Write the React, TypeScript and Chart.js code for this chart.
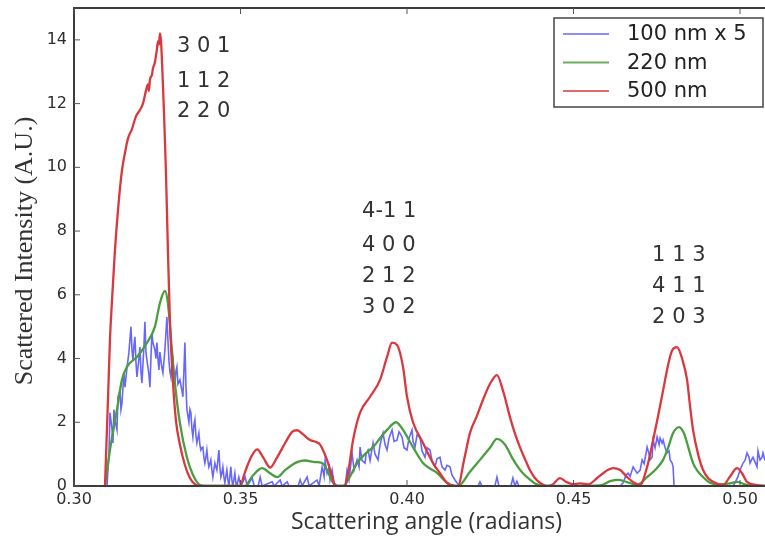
import React, { useEffect, useRef } from "react";
import { Chart, registerables } from "chart.js";

Chart.register(...registerables);

const xTickValues = [0.3, 0.35, 0.4, 0.45, 0.5];
const yTickValues = [0, 2, 4, 6, 8, 10, 12, 14];
const seriesLabels = ["100 nm x 5", "220 nm", "500 nm"];
const seriesColors = ["rgba(60,60,255,0.78)", "#4a9e3e", "#d9383e"];
const legendColors = ["#8c8cff", "#6cae5e", "#e06a6a"];

const blueSeries: [number, number][] = [
  [0.3099, 0], [0.3105, 1.0], [0.3108, 2.3], [0.3114, 1.8], [0.3117, 1.35], [0.312, 2.4], [0.3123, 2.07],
  [0.3129, 1.76], [0.3132, 2.8], [0.3138, 3.0], [0.3141, 2.4], [0.3144, 2.6], [0.315, 3.55], [0.3153, 3.1],
  [0.3159, 3.7], [0.3165, 4.2], [0.3171, 5.0], [0.3174, 4.3], [0.3177, 3.95], [0.318, 4.4], [0.3183, 4.68],
  [0.3186, 3.9], [0.3189, 3.42], [0.3195, 4.0], [0.3198, 4.36], [0.3201, 3.6], [0.3204, 3.23], [0.321, 4.4],
  [0.3213, 5.15], [0.3216, 4.2], [0.3219, 3.95], [0.3225, 3.5], [0.3228, 3.1], [0.3231, 4.0], [0.3234, 4.8],
  [0.3237, 4.5], [0.3243, 4.27], [0.3246, 4.0], [0.3249, 4.5], [0.3252, 4.0], [0.3255, 3.64], [0.3258, 4.2],
  [0.3261, 3.95], [0.3264, 3.7], [0.3267, 3.55], [0.327, 3.9], [0.3273, 4.27], [0.3276, 4.8], [0.3279, 5.3],
  [0.3282, 4.6], [0.3285, 3.95], [0.3288, 3.6], [0.3291, 3.42], [0.3294, 3.8], [0.3297, 3.95], [0.33, 3.5],
  [0.3303, 3.23], [0.3306, 3.6], [0.3309, 3.74], [0.3312, 3.2], [0.3318, 3.33], [0.3324, 3.0], [0.3327, 2.8],
  [0.333, 3.6], [0.3333, 4.5], [0.3336, 3.2], [0.3339, 2.4], [0.3342, 2.2], [0.3345, 2.0], [0.3348, 2.4],
  [0.3351, 2.3], [0.3354, 1.8], [0.3357, 1.54], [0.336, 1.9], [0.3363, 2.07], [0.3366, 1.6], [0.3369, 1.35],
  [0.3372, 1.5], [0.3375, 1.66], [0.3378, 1.3], [0.3381, 1.13], [0.3384, 1.2], [0.3387, 1.22], [0.339, 0.9],
  [0.3393, 0.72], [0.3396, 0.9], [0.3399, 1.13], [0.3402, 0.8], [0.3405, 0.6], [0.3408, 0.7], [0.3411, 0.82],
  [0.3414, 0.5], [0.3417, 0.28], [0.342, 0.5], [0.3423, 0.72], [0.3426, 0.6], [0.3429, 0.5], [0.3432, 0.8],
  [0.3435, 1.13], [0.3438, 0.6], [0.3441, 0.28], [0.3444, 0.4], [0.3447, 0.6], [0.345, 0.3], [0.3453, 0.1],
  [0.3456, 0.3], [0.3459, 0.5], [0.3462, 0.2], [0.3465, 0], [0.3468, 0.3], [0.3471, 0.6], [0.3474, 0.2],
  [0.3477, 0], [0.348, 0.2], [0.3483, 0.4], [0.3486, 0.1], [0.3489, 0], [0.3495, 0.28], [0.3501, 0],
  [0.3514, 0.28], [0.352, 0], [0.3535, 0.25], [0.3541, 0], [0.3553, 0], [0.3559, 0.28], [0.3565, 0],
  [0.3595, 0.13], [0.3601, 0], [0.3619, 0.19], [0.3625, 0], [0.364, 0.13], [0.3646, 0], [0.3673, 0],
  [0.3679, 0.2], [0.3685, 0], [0.37, 0.28], [0.3706, 0], [0.373, 0.19], [0.3736, 0], [0.3745, 0.6],
  [0.3751, 0.3], [0.3754, 0.8], [0.376, 0.4], [0.3766, 0.6], [0.3769, 0.2], [0.3775, 0.5], [0.3781, 0.1],
  [0.379, 0], [0.3814, 0], [0.382, 0.5], [0.3826, 0.2], [0.3835, 1.04], [0.3841, 0.5], [0.385, 0.82],
  [0.3856, 0.6], [0.3859, 1.22], [0.3865, 0.8], [0.3874, 0.72], [0.3877, 1.0], [0.3883, 1.13], [0.3889, 0.8],
  [0.3898, 1.35], [0.3904, 1.0], [0.3913, 0.82], [0.3919, 1.3], [0.3928, 1.66], [0.3934, 1.3], [0.394, 1.13],
  [0.3946, 1.5], [0.3955, 1.76], [0.3961, 1.4], [0.397, 1.44], [0.3976, 1.7], [0.3985, 1.54], [0.3991, 1.2],
  [0.4, 1.13], [0.4006, 1.5], [0.4015, 1.76], [0.4018, 1.4], [0.4024, 1.22], [0.403, 1.6], [0.4039, 1.54],
  [0.4045, 1.1], [0.4054, 0.9], [0.406, 1.2], [0.4069, 1.13], [0.4075, 0.8], [0.4084, 0.6], [0.409, 0.85],
  [0.4099, 0.9], [0.4105, 0.6], [0.4114, 0.5], [0.412, 0.65], [0.4129, 0.6], [0.4135, 0.35], [0.4144, 0.19],
  [0.415, 0.1], [0.4159, 0], [0.4213, 0], [0.4219, 0.13], [0.4225, 0], [0.4264, 0], [0.427, 0.28],
  [0.4276, 0], [0.4312, 0], [0.4318, 0.25], [0.4324, 0], [0.433, 0.15], [0.4336, 0], [0.464, 0],
  [0.4649, 0.1], [0.4658, 0.35], [0.4664, 0.4], [0.467, 0.3], [0.4679, 0.6], [0.4685, 0.5], [0.4691, 0.4],
  [0.47, 0.5], [0.4706, 0.82], [0.4712, 0.7], [0.4721, 1.22], [0.4727, 1.0], [0.473, 0.82], [0.4736, 0.9],
  [0.4739, 1.44], [0.4745, 1.2], [0.4751, 1.54], [0.4757, 1.3], [0.476, 1.5], [0.4766, 1.35], [0.4769, 1.44],
  [0.4775, 1.2], [0.4781, 1.04], [0.4787, 1.1], [0.479, 0.82], [0.4796, 0.72], [0.4799, 0.6], [0.4802, 0],
  [0.4979, 0], [0.4985, 0.1], [0.4994, 0.3], [0.5, 0.5], [0.5009, 0.72], [0.5015, 0.8], [0.5021, 1.04],
  [0.5027, 0.9], [0.503, 0.72], [0.5036, 0.85], [0.5039, 0.9], [0.5045, 0.75], [0.5051, 0.6], [0.5054, 1.1],
  [0.506, 0.82], [0.5066, 0.9], [0.5069, 1.04], [0.5075, 0.8],
];

const greenSeries: [number, number][] = [
  [0.3093, 0], [0.3108, 1.13], [0.3129, 2.39], [0.3144, 3.33], [0.3159, 3.74], [0.3189, 4.05], [0.3219, 4.49],
  [0.3243, 5.0], [0.3258, 5.74], [0.3273, 6.12], [0.3282, 5.74], [0.3294, 4.27], [0.3303, 3.23], [0.3318, 1.98],
  [0.3339, 0.9], [0.3357, 0.35], [0.3378, 0.03], [0.3393, 0], [0.3513, 0], [0.3535, 0.3], [0.3565, 0.56],
  [0.3589, 0.4], [0.361, 0.28], [0.3634, 0.5], [0.367, 0.75], [0.3694, 0.8], [0.3724, 0.75], [0.3745, 0.72],
  [0.376, 0.5], [0.3775, 0.15], [0.379, 0], [0.3808, 0], [0.3829, 0.3], [0.385, 0.72], [0.3874, 1.0],
  [0.3898, 1.22], [0.3919, 1.5], [0.394, 1.76], [0.3967, 2.0], [0.3988, 1.76], [0.4018, 1.22], [0.4048, 0.72],
  [0.4069, 0.55], [0.409, 0.41], [0.412, 0.1], [0.4144, 0], [0.4153, 0], [0.4189, 0.45], [0.4219, 0.82],
  [0.4249, 1.2], [0.427, 1.48], [0.4294, 1.3], [0.4315, 0.9], [0.4333, 0.6], [0.4348, 0.4], [0.4369, 0.2],
  [0.4384, 0.08], [0.4414, 0], [0.458, 0.02], [0.461, 0.15], [0.4634, 0.19], [0.4661, 0.12], [0.4691, 0.04],
  [0.4721, 0.28], [0.4745, 0.5], [0.4769, 0.82], [0.4784, 1.2], [0.4799, 1.66], [0.4817, 1.85], [0.4832, 1.65],
  [0.4841, 1.35], [0.4859, 0.72], [0.4874, 0.45], [0.4889, 0.28], [0.491, 0.1], [0.4931, 0.05], [0.497, 0.08],
  [0.4991, 0.13], [0.5015, 0.05], [0.5036, 0], [0.5075, 0],
];

const redSeries: [number, number][] = [
  [0.3093, 0], [0.3102, 2.7], [0.3108, 4.6], [0.3114, 5.8], [0.3123, 7.4], [0.3135, 9.0], [0.3144, 9.9],
  [0.3153, 10.45], [0.3162, 10.9], [0.3174, 11.2], [0.3186, 11.6], [0.3198, 11.8], [0.3207, 12.0], [0.3216, 12.4],
  [0.3222, 12.6], [0.3225, 12.4], [0.3228, 12.75], [0.3234, 12.9], [0.3237, 13.1], [0.3243, 13.3], [0.3246, 13.5],
  [0.3249, 13.7], [0.3252, 13.95], [0.3255, 13.85], [0.3258, 14.2], [0.3261, 14.0], [0.3264, 13.4], [0.327, 11.8],
  [0.3276, 9.9], [0.3282, 7.4], [0.3288, 5.2], [0.3297, 3.3], [0.3306, 2.07], [0.3318, 1.3], [0.3333, 0.66],
  [0.3348, 0.25], [0.3366, 0.03], [0.3378, 0], [0.3498, 0], [0.3514, 0.45], [0.3529, 0.85], [0.355, 1.15],
  [0.3568, 0.9], [0.3589, 0.58], [0.361, 0.9], [0.3634, 1.35], [0.3655, 1.7], [0.367, 1.75], [0.3688, 1.62],
  [0.3709, 1.44], [0.3727, 1.38], [0.3739, 1.3], [0.3751, 1.05], [0.3763, 0.72], [0.3775, 0.3], [0.3784, 0],
  [0.3814, 0], [0.3823, 0.4], [0.3838, 1.44], [0.3859, 2.3], [0.3889, 2.8], [0.3919, 3.33], [0.394, 4.05],
  [0.3955, 4.5], [0.397, 4.43], [0.3988, 3.74], [0.4, 2.8], [0.4018, 2.0], [0.4048, 1.35], [0.4078, 0.72],
  [0.4099, 0.4], [0.412, 0.1], [0.4144, 0], [0.4153, 0], [0.4171, 0.8], [0.4189, 1.66], [0.421, 2.2],
  [0.4228, 2.7], [0.4249, 3.2], [0.427, 3.48], [0.4288, 3.0], [0.4309, 2.17], [0.4324, 1.65], [0.4339, 1.22],
  [0.4354, 0.85], [0.4369, 0.5], [0.4384, 0.25], [0.4399, 0.1], [0.442, 0], [0.4438, 0.05], [0.4459, 0.25],
  [0.448, 0.12], [0.4498, 0.06], [0.452, 0.08], [0.4544, 0.05], [0.4571, 0.25], [0.4595, 0.45], [0.4619, 0.56],
  [0.464, 0.5], [0.4661, 0.28], [0.4682, 0.1], [0.47, 0.03], [0.4721, 0.6], [0.4739, 1.44], [0.4754, 2.2],
  [0.4769, 3.0], [0.4784, 3.8], [0.4796, 4.25], [0.4811, 4.36], [0.4826, 4.0], [0.4841, 3.33], [0.485, 2.5],
  [0.4859, 1.76], [0.4874, 1.0], [0.4889, 0.5], [0.4904, 0.25], [0.4919, 0.13], [0.4949, 0.03], [0.497, 0.3],
  [0.4991, 0.56], [0.5006, 0.4], [0.5021, 0.13], [0.5051, 0.03], [0.5075, 0],
];

const peakLabels = [
  ["3 0 1", "1 1 2", "2 2 0"],
  ["4-1 1", "4 0 0", "2 1 2", "3 0 2"],
  ["1 1 3", "4 1 1", "2 0 3"],
];
const peakLabelX = [0.3309, 0.3865, 0.4736];
const peakLabelY = [
  [13.78, 12.68, 11.74],
  [8.6, 7.56, 6.56, 5.59],
  [7.22, 6.25, 5.3],
];

const xTitle = "Scattering angle (radians)";
const yTitle = "Scattered Intensity (A.U.)";

const overlayPlugin = {
  id: "overlay",
  afterDraw(chart: any) {
    const { ctx, chartArea: a, scales } = chart;
    const xs = scales.x;
    const ys = scales.y;
    ctx.save();
    const line = (x1: number, y1: number, x2: number, y2: number) => {
      ctx.beginPath();
      ctx.moveTo(x1, y1);
      ctx.lineTo(x2, y2);
      ctx.stroke();
    };
    // frame (left, top, bottom)
    ctx.strokeStyle = "#3c3c3c";
    ctx.lineWidth = 2;
    ctx.beginPath();
    ctx.moveTo(a.right + 2, a.top);
    ctx.lineTo(a.left, a.top);
    ctx.lineTo(a.left, a.bottom);
    ctx.lineTo(a.right + 2, a.bottom);
    ctx.stroke();
    // inward ticks
    ctx.lineWidth = 1;
    ctx.strokeStyle = "#555";
    xTickValues.forEach((v) => {
      const px = xs.getPixelForValue(v);
      line(px, a.bottom, px, a.bottom - 6);
      line(px, a.top, px, a.top + 6);
    });
    yTickValues.forEach((v) => {
      const py = ys.getPixelForValue(v);
      line(a.left, py, a.left + 6, py);
    });
    // peak annotations
    ctx.fillStyle = "#333";
    ctx.font = '21px "DejaVu Sans"';
    ctx.textAlign = "left";
    ctx.textBaseline = "middle";
    peakLabels.forEach((group, gi) => {
      const px = xs.getPixelForValue(peakLabelX[gi]);
      group.forEach((t, ti) => {
        ctx.fillText(t, px, ys.getPixelForValue(peakLabelY[gi][ti]));
      });
    });
    // legend
    const bw = 209;
    const bh = 89;
    const bx = a.right - 2 - bw;
    const by = a.top + 10;
    ctx.fillStyle = "#fff";
    ctx.fillRect(bx, by, bw, bh);
    ctx.strokeStyle = "#444";
    ctx.lineWidth = 1.5;
    ctx.strokeRect(bx, by, bw, bh);
    ctx.font = '21px "DejaVu Sans"';
    seriesLabels.forEach((lab, i) => {
      const ry = by + 16 + i * 28.5;
      ctx.strokeStyle = legendColors[i];
      ctx.lineWidth = 2;
      line(bx + 9, ry, bx + 55, ry);
      ctx.fillStyle = "#222";
      ctx.fillText(lab, bx + 73, ry + 1);
    });
    // axis titles
    ctx.fillStyle = "#333";
    ctx.textAlign = "center";
    ctx.font = '23px "Open Sans"';
    ctx.fillText(xTitle, (a.left + a.right) / 2 + 7, 522);
    ctx.save();
    ctx.translate(25, (a.top + a.bottom) / 2 + 4);
    ctx.rotate(-Math.PI / 2);
    ctx.font = '26px "Liberation Serif"';
    ctx.fillText(yTitle, 0, 0);
    ctx.restore();
    ctx.restore();
  },
};

export default function App() {
  const ref = useRef<HTMLCanvasElement | null>(null);
  useEffect(() => {
    if (!ref.current) return;
    const toPts = (s: [number, number][]) => s.map(([x, y]) => ({ x, y }));
    const chart = new Chart(ref.current, {
      type: "scatter",
      data: {
        datasets: [
          {
            label: seriesLabels[0],
            data: toPts(blueSeries),
            showLine: true,
            borderColor: seriesColors[0],
            borderWidth: 1.6,
            pointRadius: 0,
            tension: 0,
            order: 3,
          },
          {
            label: seriesLabels[1],
            data: toPts(greenSeries),
            showLine: true,
            borderColor: seriesColors[1],
            borderWidth: 2.3,
            pointRadius: 0,
            cubicInterpolationMode: "monotone",
            order: 2,
          },
          {
            label: seriesLabels[2],
            data: toPts(redSeries),
            showLine: true,
            borderColor: seriesColors[2],
            borderWidth: 2.3,
            pointRadius: 0,
            cubicInterpolationMode: "monotone",
            order: 1,
          },
        ],
      },
      options: {
        animation: false,
        responsive: false,
        devicePixelRatio: 1,
        layout: { padding: { top: 8, left: 0, right: 0, bottom: 0 } },
        plugins: { legend: { display: false }, tooltip: { enabled: false } },
        scales: {
          x: {
            type: "linear",
            min: 0.3,
            max: 0.5075,
            grid: { display: false, drawTicks: false },
            border: { display: false },
            afterBuildTicks: (s: any) => {
              s.ticks = xTickValues.map((v) => ({ value: v }));
            },
            afterFit: (s: any) => {
              s.height = 52;
              s.paddingLeft = 0;
              s.paddingRight = 0;
            },
            ticks: {
              padding: 4,
              color: "#2e2e2e",
              font: { family: "DejaVu Sans", size: 16 },
              callback: (v: any) => Number(v).toFixed(2),
            },
          },
          y: {
            type: "linear",
            min: 0,
            max: 15,
            grid: { display: false, drawTicks: false },
            border: { display: false },
            afterBuildTicks: (s: any) => {
              s.ticks = yTickValues.map((v) => ({ value: v }));
            },
            afterFit: (s: any) => {
              s.width = 74;
              s.paddingTop = 0;
              s.paddingBottom = 0;
            },
            ticks: {
              padding: 7,
              color: "#2e2e2e",
              font: { family: "DejaVu Sans", size: 16 },
              callback: (v: any) => String(v),
            },
          },
        },
      },
      plugins: [overlayPlugin],
    });
    return () => chart.destroy();
  }, []);
  return (
    <div style={{ position: "absolute", left: 0, top: 0, width: 765, height: 538, background: "#fff" }}>
      <canvas ref={ref} width={765} height={538} style={{ display: "block" }} />
    </div>
  );
}
